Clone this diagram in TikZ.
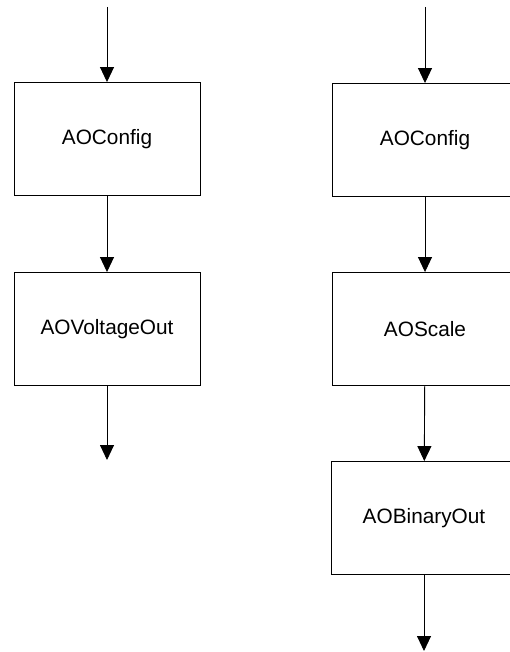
\documentclass[tikz,border=0pt]{standalone}
\usepackage{fontspec}
\setmainfont{Liberation Sans}
\usetikzlibrary{arrows.meta}
\begin{document}
\begin{tikzpicture}[x=1pt,y=-1pt,
  block/.style={draw=black, line width=0.9pt, rectangle, minimum width=186pt,
    minimum height=113pt, inner sep=0pt, font=\fontsize{20.8}{24}\selectfont},
  flow/.style={draw=black, line width=0.9pt, -{Triangle[width=14pt,length=15pt]}}]
  \useasboundingbox (0,0) rectangle (510,652);
  \clip (0,0) rectangle (510,652);
  % left chain
  \coordinate (lin) at (107,7);
  \node[block] (lcfg) at (107,139) {AOConfig};
  \node[block] (lvout) at (107,329) {AOVoltageOut};
  \coordinate (lout) at (107,460);
  \draw[flow] (lin) -- (lcfg);
  \draw[flow] (lcfg) -- (lvout);
  \draw[flow] (lvout) -- (lout);
  % right chain
  \coordinate (rin) at (425,7);
  \node[block] (rcfg) at (425,140) {AOConfig};
  \node[block] (rscale) at (425,329) {AOScale};
  \node[block] (rbin) at (424,518) {AOBinaryOut};
  \coordinate (rout) at (424,651);
  \draw[flow] (rin) -- (rcfg);
  \draw[flow] (rcfg) -- (rscale);
  \draw[flow] (rscale) -- (rbin);
  \draw[flow] (rbin) -- (rout);
\end{tikzpicture}
\end{document}
